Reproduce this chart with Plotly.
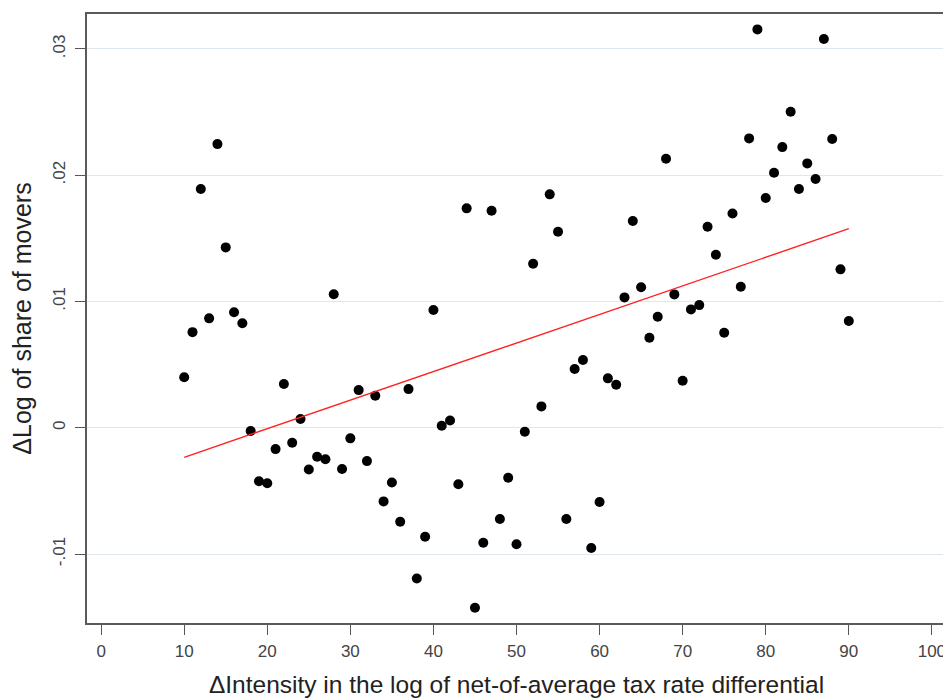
import plotly.graph_objects as go

x_vals = list(range(10, 91))
y_vals = [
    0.0040, 0.00757, 0.0189, 0.00866, 0.02246, 0.01428, 0.00914, 0.00827, -0.00026, -0.00424,
    -0.0044, -0.00169, 0.00346, -0.00119, 0.00069, -0.0033, -0.0023, -0.0025, 0.01057, -0.00327,
    -0.00084, 0.00298, -0.00264, 0.00253, -0.00583, -0.00433, -0.00744, 0.00306, -0.01193, -0.00863,
    0.00932, 0.00016, 0.00058, -0.00448, 0.01737, -0.01425, -0.0091, 0.01718, -0.00723, -0.00396,
    -0.00923, -0.00032, 0.01299, 0.00169, 0.01848, 0.01552, -0.00723, 0.00465, 0.00536, -0.00952,
    -0.00588, 0.00391, 0.0034, 0.01032, 0.01637, 0.01112, 0.00713, 0.00879, 0.0213, 0.01056,
    0.00372, 0.00937, 0.00971, 0.01591, 0.0137, 0.00752, 0.01697, 0.01116, 0.02291, 0.03154,
    0.01819, 0.02019, 0.02222, 0.02502, 0.0189, 0.02093, 0.01969, 0.03078, 0.02286, 0.01254,
    0.00845,
]
fit_x = [10, 90]
fit_y = [-0.00234, 0.01576]

x_ticks = list(range(0, 101, 10))
y_ticks = [-0.01, 0, 0.01, 0.02, 0.03]
y_tick_text = ["-.01", "0", ".01", ".02", ".03"]

fig = go.Figure()
fig.add_trace(go.Scatter(
    x=x_vals, y=y_vals, mode="markers",
    marker=dict(color="black", size=10),
    showlegend=False,
))
fig.add_trace(go.Scatter(
    x=fit_x, y=fit_y, mode="lines",
    line=dict(color="#ff2020", width=1.4),
    showlegend=False,
))

font_family = "Liberation Sans, Arial, Helvetica, sans-serif"
fig.update_layout(
    width=943, height=692,
    margin=dict(l=79, r=3, t=6, b=77),
    paper_bgcolor="white", plot_bgcolor="white",
    font=dict(family=font_family, color="#333333"),
    xaxis=dict(
        range=[-1.7, 101.7],
        tickvals=x_ticks,
        ticks="outside", ticklen=10, tickcolor="#555555", tickwidth=1.2,
        ticklabelstandoff=2,
        showgrid=False, zeroline=False,
        showline=True, linecolor="#5a5a5a", linewidth=1.8, mirror=True,
        tickfont=dict(size=17, color="#444444"),
        title=dict(text="ΔIntensity in the log of net-of-average tax rate differential",
                   font=dict(size=24.5, color="#222222"), standoff=16),
    ),
    yaxis=dict(
        range=[-0.01546, 0.03276],
        tickvals=y_ticks, ticktext=y_tick_text, tickangle=-90,
        ticks="outside", ticklen=10, tickcolor="#555555", tickwidth=1.2,
        ticklabelstandoff=3,
        showgrid=True, gridcolor="#dde7ed", gridwidth=1,
        zeroline=False,
        showline=True, linecolor="#5a5a5a", linewidth=1.8, mirror=True,
        tickfont=dict(size=17, color="#444444"),
        title=dict(text="ΔLog of share of movers",
                   font=dict(size=25, color="#222222"), standoff=16),
    ),
)

fig.write_html("out.html")
